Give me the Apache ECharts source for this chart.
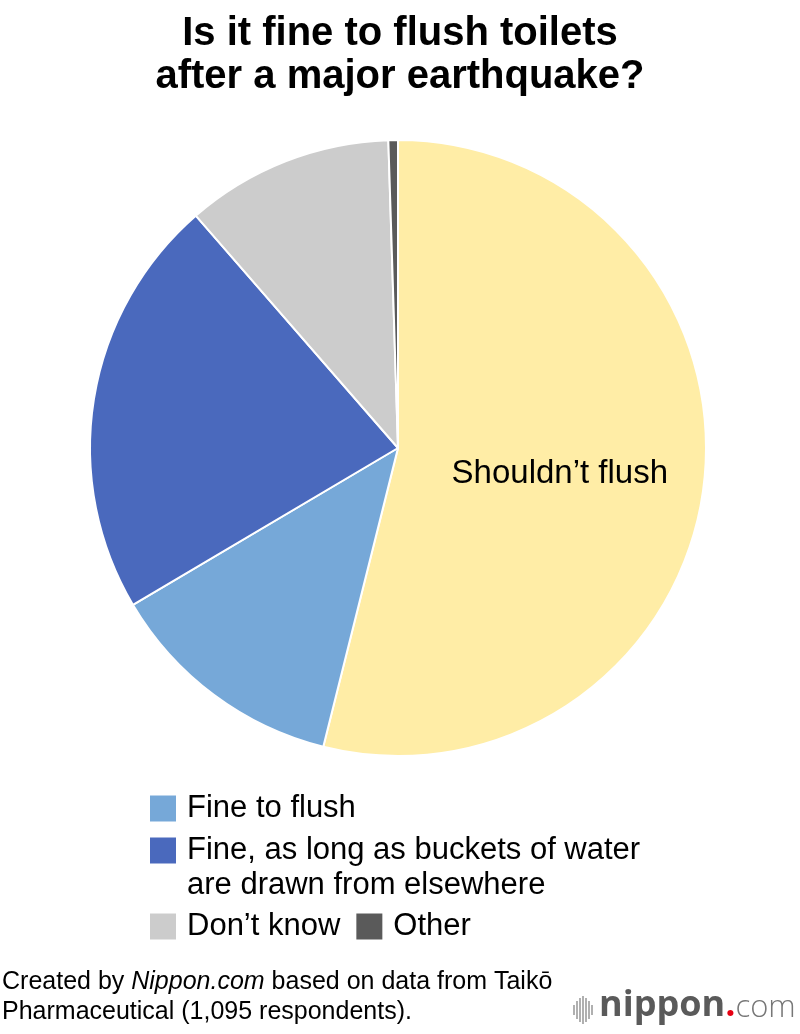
<!DOCTYPE html>
<html>
<head>
<meta charset="utf-8">
<script src="https://cdn.jsdelivr.net/npm/echarts@6/dist/echarts.min.js"></script>
<style>
html,body{margin:0;padding:0;background:#fff;}
#chart{width:800px;height:1034px;}
</style>
</head>
<body>
<div id="chart"></div>
<script>
const categories = ['Shouldn\u2019t flush', 'Fine to flush', 'Fine, as long as buckets of water are drawn from elsewhere', 'Don\u2019t know', 'Other'];
const values = [53.9, 12.6, 22.1, 10.9, 0.5];
const sliceColors = ['#FFEDA6', '#76A8D8', '#4A69BD', '#CCCCCC', '#5A5A5A'];
const legendRow1 = [categories[1]];
const legendRow2 = [categories[2]];
const legendRow3 = [categories[3], categories[4]];

const FONT = '"Liberation Sans", Arial, Helvetica, sans-serif';
const chart = echarts.init(document.getElementById('chart'), null, {renderer: 'canvas'});

const pieData = categories.map((name, i) => ({
  name: name,
  value: values[i],
  itemStyle: {color: sliceColors[i]},
  label: {show: i === 0}
}));

const legendText = {fontFamily: FONT, fontSize: 31, color: '#000', lineHeight: 35, padding: [0, 0, 0, 6]};
const legendItemStyle = {borderWidth: 0};

chart.setOption({
  animation: false,
  backgroundColor: '#fff',
  title: [
    {
      text: 'Is it fine to flush toilets\nafter a major earthquake?',
      left: 'center',
      top: 12,
      padding: 0,
      textStyle: {fontFamily: FONT, fontSize: 40, fontWeight: 'bold', color: '#000', lineHeight: 43}
    },
    {
      text: '{n|Created by }{i|Nippon.com}{n| based on data from Taik\u014d}\n{n|Pharmaceutical (1,095 respondents).}',
      left: 2,
      top: 967,
      padding: 0,
      textStyle: {
        fontFamily: FONT, fontSize: 25, fontWeight: 'normal', color: '#000', lineHeight: 30,
        rich: {
          n: {fontFamily: FONT, fontSize: 25, fontWeight: 'normal', color: '#000', lineHeight: 30},
          i: {fontFamily: FONT, fontSize: 25, fontWeight: 'normal', color: '#000', fontStyle: 'italic', lineHeight: 30}
        }
      }
    }
  ],
  legend: [
    {
      data: legendRow1, left: 150, top: 791, padding: 0, icon: 'rect',
      itemWidth: 26, itemHeight: 26, selectedMode: false,
      itemStyle: legendItemStyle,
      textStyle: legendText
    },
    {
      data: legendRow2, left: 150, top: 798, padding: 0, icon: 'rect',
      itemWidth: 26, itemHeight: 26, selectedMode: false,
      itemStyle: legendItemStyle,
      formatter: function (name) { return '\n' + name.replace(' are drawn', '\nare drawn'); },
      textStyle: legendText
    },
    {
      data: legendRow3, left: 150, top: 909, padding: 0, icon: 'rect',
      itemWidth: 26, itemHeight: 26, itemGap: 16, selectedMode: false,
      itemStyle: legendItemStyle,
      textStyle: legendText
    }
  ],
  series: [{
    type: 'pie',
    center: [398, 448],
    radius: 308,
    startAngle: 90,
    clockwise: true,
    avoidLabelOverlap: false,
    silent: true,
    itemStyle: {borderColor: '#fff', borderWidth: 2},
    label: {
      position: 'inside',
      formatter: '{b}',
      fontFamily: FONT,
      fontSize: 33,
      color: '#000',
      offset: [6, 7]
    },
    labelLine: {show: false},
    emphasis: {disabled: true},
    data: pieData
  }],
  graphic: [
    {
      type: 'group',
      left: 573,
      top: 996,
      children: [
        {type: 'rect', shape: {x: 0, y: 9, width: 2, height: 10}, style: {fill: '#B0B0B0'}},
        {type: 'rect', shape: {x: 3, y: 5, width: 2, height: 18}, style: {fill: '#B0B0B0'}},
        {type: 'rect', shape: {x: 6, y: 2, width: 2, height: 24}, style: {fill: '#B0B0B0'}},
        {type: 'rect', shape: {x: 9, y: 0, width: 2, height: 28}, style: {fill: '#B0B0B0'}},
        {type: 'rect', shape: {x: 12, y: 2, width: 2, height: 24}, style: {fill: '#B0B0B0'}},
        {type: 'rect', shape: {x: 15, y: 5, width: 2, height: 18}, style: {fill: '#B0B0B0'}},
        {type: 'rect', shape: {x: 18, y: 9, width: 2, height: 10}, style: {fill: '#B0B0B0'}}
      ]
    },
    {
      type: 'text',
      left: 599,
      top: 988,
      style: {
        text: '{a|nippon}{b|.}{c|com}',
        rich: {
          a: {fontFamily: '"Open Sans", sans-serif', fontSize: 36, fontWeight: 'bold', fill: '#5A5A5A', verticalAlign: 'bottom', lineHeight: 40},
          b: {fontFamily: '"Open Sans", sans-serif', fontSize: 36, fontWeight: 'bold', fill: '#E60012', verticalAlign: 'bottom', lineHeight: 40},
          c: {fontFamily: '"Open Sans", sans-serif', fontSize: 31, fontWeight: 300, fill: '#777', verticalAlign: 'bottom', lineHeight: 40}
        }
      }
    }
  ]
});
</script>
</body>
</html>
